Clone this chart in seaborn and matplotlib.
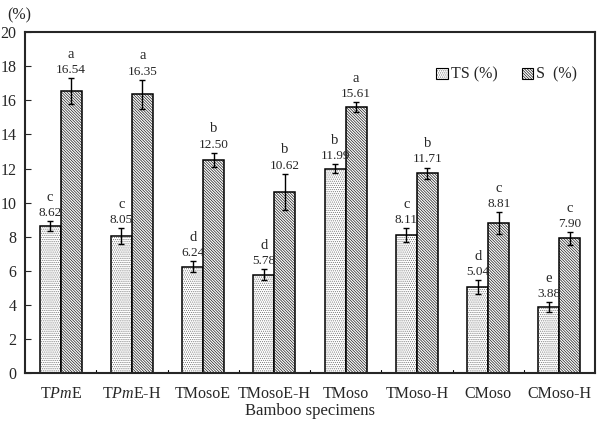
import matplotlib
matplotlib.use("Agg")
import matplotlib.pyplot as plt
import pandas as pd
import seaborn as sns

# values
specimens = ["T$\\it{Pm}$E", "T$\\it{Pm}$E-H", "TMosoE", "TMosoE-H",
             "TMoso", "TMoso-H", "CMoso", "CMoso-H"]
ts_vals = [8.62, 8.05, 6.24, 5.78, 11.99, 8.11, 5.04, 3.88]
s_vals = [16.54, 16.35, 12.50, 10.62, 15.61, 11.71, 8.81, 7.90]
ts_err = [0.30, 0.45, 0.33, 0.33, 0.27, 0.40, 0.40, 0.29]
s_err = [0.75, 0.86, 0.43, 1.07, 0.30, 0.35, 0.64, 0.36]
ts_letters = ["c", "c", "d", "d", "b", "c", "d", "e"]
s_letters = ["a", "a", "b", "b", "a", "b", "c", "c"]
series = ["TS (%)", "S  (%)"]

sns.set_style("ticks")
plt.rcParams["font.family"] = ["Liberation Serif", "DejaVu Serif"]
plt.rcParams["mathtext.fontset"] = "custom"
plt.rcParams["mathtext.it"] = "Liberation Serif:italic"
plt.rcParams["mathtext.rm"] = "Liberation Serif"
plt.rcParams["hatch.linewidth"] = 0.5

df = pd.DataFrame({
    "specimen": specimens * 2,
    "value": ts_vals + s_vals,
    "series": [series[0]] * len(specimens) + [series[1]] * len(specimens),
})

fig = plt.figure(figsize=(6.02, 4.23), dpi=100)
ax = fig.add_axes([0.0415, 0.118, 0.947, 0.806])

sns.barplot(data=df, x="specimen", y="value", hue="series", order=specimens,
            hue_order=series, errorbar=None, width=0.59, gap=0,
            palette=["white", "white"], edgecolor="black", linewidth=1.1, ax=ax)

hatches = ["........", "\\\\\\\\\\\\\\\\\\\\\\\\"]
hatch_colors = [(0.45, 0.45, 0.45, 1.0), (0.1, 0.1, 0.1, 1.0)]
errs = [ts_err, s_err]
vals = [ts_vals, s_vals]
letters = [ts_letters, s_letters]
bar_groups = list(ax.containers)
for k, cont in enumerate(bar_groups):
    for i, bar in enumerate(cont.patches):
        bar.set_hatch(hatches[k])
        bar._hatch_color = hatch_colors[k]
        x = bar.get_x() + bar.get_width() / 2
        v = vals[k][i]
        e = errs[k][i]
        ax.errorbar(x, v, yerr=e, fmt="none", ecolor="black",
                    elinewidth=1, capsize=2.5, capthick=1)
        ax.annotate(f"{v:.2f}", (x, v + e), xytext=(0, 1.5), textcoords="offset points",
                    ha="center", va="bottom", fontsize=9.5)
        ax.annotate(letters[k][i], (x, v + e), xytext=(0, 12.5), textcoords="offset points",
                    ha="center", va="bottom", fontsize=10.5)

ax.set_ylim(0, 20)
ax.set_xlim(-0.5, len(specimens) - 0.5)
ax.set_yticks(range(0, 21, 2))
ax.set_xticks(range(len(specimens)))
ax.set_xticklabels(specimens, fontsize=11.5)
ax.tick_params(axis="x", length=0, pad=9)
ax.tick_params(axis="y", direction="in", length=4, labelsize=11.5, pad=6)
for xb in range(1, len(specimens)):
    ax.plot([xb - 0.5, xb - 0.5], [0, 0.2], color="black", lw=0.8)

ax.set_xlabel("Bamboo specimens", fontsize=12, labelpad=1)
ax.set_ylabel("")
for sp in ax.spines.values():
    sp.set_visible(True)
    sp.set_linewidth(1.5)

fig.text(0.012, 0.963, "(%)", fontsize=11.5, ha="left", va="center")

leg = ax.legend(loc="center", bbox_to_anchor=(0.845, 0.875), ncol=2, frameon=False,
                handlelength=0.7, handleheight=0.7, columnspacing=1.5,
                handletextpad=0.2, fontsize=11.5)
for h, hatch, hc in zip(leg.legend_handles, hatches, hatch_colors):
    h.set_hatch(hatch)
    h.set_edgecolor("black")
    h._hatch_color = hc
    h.set_linewidth(0.8)

fig.savefig("out.png", dpi=100)
